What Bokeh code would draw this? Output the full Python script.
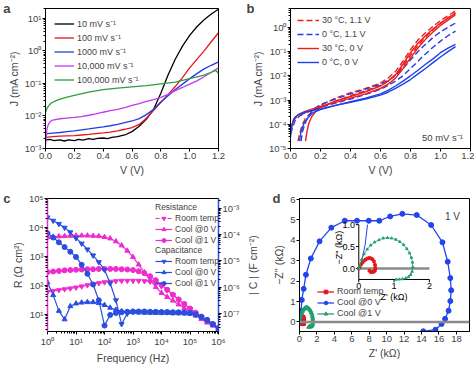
import math
from bokeh.plotting import figure
from bokeh.layouts import column, row
from bokeh.models import (Range1d, LogAxis, LinearAxis, Legend, LegendItem, Label, Span,
                          CustomJSTickFormatter, FixedTicker, LogScale, NumeralTickFormatter)
from bokeh.embed import file_html
from bokeh.resources import INLINE
from bokeh.core.properties import value

FONT = "Liberation Sans"
TICK_FS = "9.5px"
LAB_FS = "10.5px"
LEG_FS = "9px"

# ---------------- Panel a data ----------------
a_V_10 = [0.0, 0.03, 0.06, 0.1, 0.13, 0.16, 0.2, 0.23, 0.26, 0.3, 0.33, 0.36, 0.4, 0.43, 0.46, 0.5,
          0.55, 0.6, 0.65, 0.7, 0.75, 0.8, 0.85, 0.9, 0.95, 1.0, 1.05, 1.1, 1.15, 1.2]
a_J_10 = [1.8e-3, 1.9e-3, 1.75e-3, 1.85e-3, 1.7e-3, 1.85e-3, 1.75e-3, 1.9e-3, 1.8e-3, 2.0e-3, 1.9e-3,
          2.05e-3, 2.1e-3, 2.0e-3, 2.2e-3, 2.3e-3, 2.6e-3, 3.3e-3, 4.8e-3, 8.0e-3, 1.6e-2, 5.0e-2,
          1.8e-1, 5.5e-1, 1.4, 3.0, 5.5, 9.0, 13.5, 19.0]
a_V = [0.0, 0.05, 0.1, 0.15, 0.2, 0.25, 0.3, 0.35, 0.4, 0.45, 0.5, 0.55, 0.6, 0.65, 0.7, 0.75, 0.8,
       0.85, 0.9, 0.95, 1.0, 1.05, 1.1, 1.15, 1.2]
a_J_100 = [2.2e-3, 2.3e-3, 2.4e-3, 2.45e-3, 2.5e-3, 2.6e-3, 2.7e-3, 2.85e-3, 3.0e-3, 3.2e-3, 3.5e-3,
           3.9e-3, 4.4e-3, 5.5e-3, 8.5e-3, 1.5e-2, 2.6e-2, 4.5e-2, 8.0e-2, 1.5e-1, 3.0e-1, 5.5e-1,
           1.0, 1.9, 3.6]
a_J_1000 = [2.8e-3, 2.95e-3, 3.1e-3, 3.3e-3, 3.5e-3, 3.75e-3, 4.0e-3, 4.3e-3, 4.6e-3, 5.0e-3, 5.5e-3,
            6.2e-3, 7.0e-3, 8.3e-3, 1.1e-2, 1.6e-2, 2.7e-2, 4.2e-2, 6.5e-2, 9.5e-2, 1.4e-1, 2.0e-1,
            2.8e-1, 3.6e-1, 4.6e-1]
a_V_1e4 = [0.0, 0.005, 0.01, 0.02, 0.03, 0.05, 0.1, 0.15, 0.2, 0.25, 0.3, 0.35, 0.4, 0.45, 0.5, 0.55,
           0.6, 0.65, 0.7, 0.75, 0.8, 0.85, 0.9, 0.95, 1.0, 1.05, 1.1, 1.15, 1.2]
a_J_1e4 = [1.2e-3, 2.5e-3, 4e-3, 5.5e-3, 6.5e-3, 7.5e-3, 8.2e-3, 8.6e-3, 9.0e-3, 9.6e-3, 1.05e-2,
           1.15e-2, 1.3e-2, 1.45e-2, 1.6e-2, 1.8e-2, 2.1e-2, 2.4e-2, 2.8e-2, 3.2e-2, 3.7e-2, 4.6e-2,
           6.0e-2, 7.5e-2, 9.5e-2, 1.2e-1, 1.6e-1, 2.2e-1, 3.0e-1]
a_V_1e5 = [0.0, 0.01, 0.02, 0.04, 0.07, 0.1, 0.15, 0.2, 0.3, 0.4, 0.5, 0.6, 0.7, 0.8, 0.9, 1.0, 1.1,
           1.15, 1.18, 1.19, 1.2]
a_J_1e5 = [1.3e-2, 1.7e-2, 2.0e-2, 2.5e-2, 2.9e-2, 3.3e-2, 3.8e-2, 4.3e-2, 5.4e-2, 6.4e-2, 7.2e-2,
           7.8e-2, 8.5e-2, 9.7e-2, 1.1e-1, 1.4e-1, 1.8e-1, 2.2e-1, 2.5e-1, 2.3e-1, 2.0e-1]
a_labels = ["10 mV s⁻¹", "100 mV s⁻¹", "1000 mV s⁻¹", "10,000 mV s⁻¹", "100,000 mV s⁻¹"]
a_colors = ["#000000", "#e8141c", "#1f3de6", "#c338f0", "#2e9e3a"]

# ---------------- Panel b data ----------------
b_rd1_V = [0.05, 0.06, 0.08, 0.1, 0.15, 0.2, 0.3, 0.4, 0.5, 0.6, 0.65, 0.7, 0.75, 0.8, 0.85, 0.9, 0.95, 1.0, 1.05, 1.1]
b_rd1_J = [2e-5, 4e-5, 1e-4, 1.8e-4, 3.5e-4, 6e-4, 1.2e-3, 2.0e-3, 3.0e-3, 5.0e-3, 8e-3, 1.5e-2, 4e-2, 0.12, 0.3, 0.6, 1.1, 1.9, 3.0, 4.8]
b_rd2_V = [0.0, 0.02, 0.05, 0.1, 0.2, 0.3, 0.4, 0.5, 0.6, 0.65, 0.7, 0.75, 0.8, 0.85, 0.9, 0.95, 1.0, 1.05, 1.1]
b_rd2_J = [6e-5, 1.5e-4, 2.2e-4, 3e-4, 5e-4, 9e-4, 1.5e-3, 2.4e-3, 4e-3, 6e-3, 1.1e-2, 2.5e-2, 7e-2, 0.18, 0.4, 0.8, 1.5, 2.5, 4.0]
b_bd1_V = [0.07, 0.08, 0.1, 0.12, 0.15, 0.2, 0.3, 0.4, 0.5, 0.6, 0.65, 0.7, 0.75, 0.8, 0.85, 0.9, 0.95, 1.0, 1.05, 1.1]
b_bd1_J = [2e-5, 5e-5, 1.2e-4, 2.2e-4, 4e-4, 6.5e-4, 1.1e-3, 1.8e-3, 2.8e-3, 4.5e-3, 6.5e-3, 1e-2, 2e-2, 4.5e-2, 0.1, 0.2, 0.38, 0.65, 1.0, 1.5]
b_bd2_V = [0.0, 0.03, 0.06, 0.1, 0.2, 0.3, 0.4, 0.5, 0.6, 0.65, 0.7, 0.75, 0.8, 0.85, 0.9, 0.95, 1.0, 1.05, 1.1]
b_bd2_J = [4e-5, 1.4e-4, 2.2e-4, 3e-4, 5e-4, 7.5e-4, 1.1e-3, 1.7e-3, 2.8e-3, 4e-3, 6e-3, 1e-2, 2e-2, 4e-2, 8e-2, 0.15, 0.27, 0.45, 0.7]
b_rs1_V = [0.1, 0.11, 0.12, 0.14, 0.17, 0.2, 0.3, 0.4, 0.5, 0.6, 0.65, 0.7, 0.75, 0.8, 0.85, 0.9, 0.95, 1.0, 1.05, 1.1]
b_rs1_J = [2e-5, 5e-5, 1e-4, 2e-4, 3.5e-4, 5e-4, 9e-4, 1.4e-3, 2.2e-3, 3.8e-3, 6e-3, 1.1e-2, 3e-2, 9e-2, 0.22, 0.45, 0.85, 1.5, 2.4, 3.8]
b_rs2_V = [0.0, 0.02, 0.05, 0.1, 0.2, 0.3, 0.4, 0.5, 0.6, 0.65, 0.7, 0.75, 0.8, 0.85, 0.9, 0.95, 1.0, 1.05, 1.1]
b_rs2_J = [5e-5, 1.6e-4, 2.5e-4, 3.5e-4, 5.5e-4, 8e-4, 1.2e-3, 1.8e-3, 3e-3, 4.5e-3, 8e-3, 2e-2, 5.5e-2, 0.14, 0.32, 0.65, 1.2, 2.0, 3.3]
b_bs1_V = [0.0, 0.01, 0.03, 0.06, 0.1, 0.2, 0.3, 0.4, 0.5, 0.6, 0.65, 0.7, 0.75, 0.8, 0.85, 0.9, 0.95, 1.0, 1.05, 1.1]
b_bs1_J = [3e-5, 1e-4, 2e-4, 2.6e-4, 3.2e-4, 4.3e-4, 6e-4, 8e-4, 1.1e-3, 1.6e-3, 2.1e-3, 3e-3, 4.5e-3, 7e-3, 1.2e-2, 2e-2, 3.5e-2, 6e-2, 0.1, 0.16]
b_bs2_V = [0.06, 0.07, 0.09, 0.12, 0.15, 0.2, 0.3, 0.4, 0.5, 0.6, 0.65, 0.7, 0.75, 0.8, 0.85, 0.9, 0.95, 1.0, 1.05, 1.1]
b_bs2_J = [2e-5, 5e-5, 1.1e-4, 2e-4, 3e-4, 4e-4, 6e-4, 8.5e-4, 1.2e-3, 1.8e-3, 2.5e-3, 3.8e-3, 6e-3, 1e-2, 1.7e-2, 3e-2, 5e-2, 9e-2, 0.14, 0.2]
b_labels = ["30 °C, 1.1 V", "0 °C, 1.1 V", "30 °C, 0 V", "0 °C, 0 V"]
RED = "#ee1c1c"
BLUE = "#2140e8"

# ---------------- Panel c data ----------------
c_f = [1, 1.58, 2.51, 3.98, 6.31, 10, 15.8, 25.1, 39.8, 63.1, 100, 158, 251, 398, 631, 1000, 1580,
       2510, 3980, 6310, 1e4, 1.58e4, 2.51e4, 3.98e4, 6.31e4, 1e5, 1.58e5, 2.51e5, 3.98e5, 6.31e5, 1e6]
c_R_room = [60, 65, 69, 74, 79, 85, 93, 102, 112, 120, 129, 135, 141, 145, 145, 145, 145, 141, 135,
            117, 93, 69, 47, 32, 22, 15.5, 11, 8, 6, 4.5, 3.4]
c_R_cool0 = [4570, 4790, 4900, 5010, 5130, 5250, 5250, 5250, 5130, 5010, 4680, 4170, 3310, 2400, 1580,
             955, 525, 282, 151, 87, 55, 40, 30, 22, 16.6, 12.3, 9.1, 6.9, 5.2, 4.1, 3.2]
c_R_cool1 = [288, 302, 316, 331, 339, 347, 355, 363, 363, 372, 372, 372, 372, 363, 355, 339, 309, 263,
             209, 151, 105, 71, 48, 33, 23, 16, 11.5, 8.3, 6.2, 4.6, 3.5]
c_C_room = [4.4e-4, 3.3e-4, 2.5e-4, 1.8e-4, 1.2e-4, 7.2e-5, 4.5e-5, 2.7e-5, 1.6e-5, 8.9e-6, 4.6e-6,
            1.4e-6, 3.2e-7, 4.0e-8, 1.0e-7, 1.17e-7, 1.17e-7, 1.17e-7, 1.15e-7, 1.15e-7, 1.12e-7,
            1.12e-7, 1.12e-7, 1.1e-7, 1.1e-7, 1.05e-7, 9.1e-8, 7.4e-8, 5.6e-8, 4.0e-8, 2.6e-8]
c_C_cool0 = [1.5e-6, 5.0e-7, 1.26e-7, 6.0e-8, 1.9e-7, 2.4e-7, 2.6e-7, 2.7e-7, 2.7e-7, 2.5e-7, 2.1e-7,
             1.66e-7, 1.38e-7, 1.23e-7, 1.15e-7, 1.12e-7, 1.1e-7, 1.07e-7, 1.07e-7, 1.05e-7, 1.05e-7,
             1.05e-7, 1.02e-7, 1.02e-7, 1.0e-7, 9.8e-8, 8.7e-8, 7.1e-8, 5.4e-8, 3.8e-8, 2.5e-8]
c_C_cool1 = [1.1e-4, 7.6e-5, 5.0e-5, 3.3e-5, 2.2e-5, 1.4e-5, 7.1e-6, 3.2e-6, 1.26e-6, 3.2e-7, 3.5e-8,
             8.9e-8, 1.05e-7, 1.12e-7, 1.17e-7, 1.2e-7, 1.2e-7, 1.2e-7, 1.17e-7, 1.17e-7, 1.15e-7,
             1.15e-7, 1.12e-7, 1.12e-7, 1.1e-7, 1.05e-7, 9.3e-8, 7.6e-8, 5.8e-8, 4.0e-8, 2.6e-8]
c_labels = ["Room temp", "Cool @0 V", "Cool @1 V"]
MAG = "#ee2ccc"
CBLUE = "#2a4ee0"

# ---------------- Panel d data ----------------
d_rt_x = [0.0, 0.03, 0.07, 0.11, 0.16, 0.2, 0.25, 0.3, 0.35, 0.39, 0.43, 0.46, 0.47, 0.46, 0.43, 0.39, 0.34, 0.3]
d_rt_y = [0.0, 0.04, 0.1, 0.14, 0.18, 0.21, 0.23, 0.24, 0.23, 0.21, 0.16, 0.08, 0.01, -0.04, -0.07, -0.08, -0.08, -0.05]
d_c0_x = [0.05, 0.18, 0.26, 0.48, 0.74, 1.3, 2.3, 3.65, 5.2, 6.6, 7.95, 9.15, 10.4, 11.8, 13.45, 15.1,
          16.4, 17.0, 17.3, 17.4, 17.3, 17.1, 16.7, 16.3, 15.6, 14.2]
d_c0_y = [0.05, 0.54, 1.08, 1.62, 2.31, 3.11, 3.95, 4.62, 4.96, 4.96, 4.96, 4.96, 5.17, 5.3, 5.24, 4.75,
          3.9, 2.95, 2.15, 1.55, 1.02, 0.55, 0.15, -0.1, -0.38, -0.46]
d_c1_x = [0.0, 0.03, 0.08, 0.15, 0.24, 0.34, 0.45, 0.57, 0.69, 0.81, 0.93, 1.05, 1.16, 1.27, 1.36, 1.44,
          1.49, 1.52, 1.53, 1.51, 1.47, 1.41, 1.33, 1.24, 1.15, 1.06]
d_c1_y = [0.0, 0.07, 0.2, 0.33, 0.44, 0.53, 0.6, 0.65, 0.69, 0.7, 0.69, 0.66, 0.61, 0.54, 0.45, 0.35,
          0.25, 0.14, 0.03, -0.07, -0.14, -0.19, -0.22, -0.24, -0.245, -0.25]
d_labels = ["Room temp", "Cool @0 V", "Cool @1 V"]
DRED = "#e8141c"
DBLUE = "#2244ee"
DGREEN = "#1f9e6e"
ins_xticks = [0, 1, 2]
ins_yticks = [0.0, 0.5, 1.0]
ins_xlabels = ["0", "1", "2"]
ins_ylabels = ["0.0", "0.5", "1.0"]

SUP_CODE = """
const m = {'-':'\u207b','0':'\u2070','1':'\u00b9','2':'\u00b2','3':'\u00b3','4':'\u2074','5':'\u2075','6':'\u2076','7':'\u2077','8':'\u2078','9':'\u2079'};
const e = Math.round(Math.log10(tick));
return '10' + String(e).split('').map(c => m[c]).join('');
"""


def sup_fmt():
    return CustomJSTickFormatter(code=SUP_CODE)


def decades(lo, hi):
    ticks = [10.0 ** e for e in range(lo, hi + 1)]
    minors = [m * 10.0 ** e for e in range(lo - 1, hi + 1) for m in range(2, 10)]
    return FixedTicker(ticks=ticks, minor_ticks=minors)


def style(p):
    p.grid.visible = False
    p.outline_line_color = "black"
    p.outline_line_alpha = 1
    p.background_fill_color = "white"
    p.border_fill_color = "white"
    for ax in p.axis:
        ax.major_label_text_font = FONT
        ax.major_label_text_font_size = TICK_FS
        ax.axis_label_text_font = FONT
        ax.axis_label_text_font_size = LAB_FS
        ax.axis_label_text_font_style = "normal"
        ax.major_tick_out = 3
        ax.major_tick_in = 0
        ax.minor_tick_out = 2
        ax.minor_tick_in = 0
        ax.major_label_standoff = 1
        ax.axis_label_standoff = 2
        ax.axis_line_color = "black"


def style_legend(lg, fs=LEG_FS):
    lg.label_text_font = FONT
    lg.label_text_font_size = fs
    lg.background_fill_alpha = 0
    lg.border_line_color = None
    lg.padding = 0
    lg.spacing = 0
    lg.label_standoff = 3


def panel_letter(p, letter, top, shift):
    """Panel letter drawn as the single tick label of an outer, invisible left axis."""
    ax = LinearAxis(ticker=FixedTicker(ticks=[top]),
                    formatter=CustomJSTickFormatter(code="return '%s'" % letter))
    ax.axis_line_color = None
    ax.major_tick_line_color = None
    ax.minor_tick_line_color = None
    ax.major_tick_out = 0
    ax.major_tick_in = 0
    ax.minor_tick_out = 0
    ax.minor_tick_in = 0
    ax.major_label_standoff = -shift
    ax.major_label_text_font = FONT
    ax.major_label_text_font_style = "bold"
    ax.major_label_text_font_size = "13px"
    p.add_layout(ax, "left")
    return ax


# ================= Panel a =================
pa = figure(width=237, height=183, y_axis_type="log", x_range=Range1d(0, 1.2),
            y_range=Range1d(1e-3, 20), output_backend="svg", toolbar_location=None,
            min_border_left=42, min_border_right=19, min_border_top=8, min_border_bottom=35)
for xs, ys, c, lab in [(a_V_10, a_J_10, a_colors[0], a_labels[0]),
                       (a_V, a_J_100, a_colors[1], a_labels[1]),
                       (a_V, a_J_1000, a_colors[2], a_labels[2]),
                       (a_V_1e4, a_J_1e4, a_colors[3], a_labels[3]),
                       (a_V_1e5, a_J_1e5, a_colors[4], a_labels[4])]:
    pa.line(xs, ys, line_color=c, line_width=1.3, legend_label=lab)
pa.xaxis.ticker = FixedTicker(ticks=[0, 0.2, 0.4, 0.6, 0.8, 1.0, 1.2])
pa.xaxis.formatter = NumeralTickFormatter(format="0.0")
pa.yaxis.ticker = decades(-3, 1)
pa.yaxis.formatter = sup_fmt()
pa.xaxis.axis_label = "V (V)"
pa.yaxis.axis_label = "J (mA cm⁻²)"
style(pa)
style_legend(pa.legend[0])
pa.legend.location = "top_left"
pa.legend.margin = 9
pa.legend.glyph_width = 20
pa.legend.glyph_height = 9
pa.legend.label_height = 9
pa.legend.spacing = 1
panel_letter(pa, "a", 20, 6)

# ================= Panel b =================
pb = figure(width=237, height=183, y_axis_type="log", x_range=Range1d(0, 1.2),
            y_range=Range1d(1e-5, 6), output_backend="svg", toolbar_location=None,
            min_border_left=53, min_border_right=4, min_border_top=8, min_border_bottom=35)
r1 = pb.multi_line([b_rd1_V, b_rd2_V], [b_rd1_J, b_rd2_J], line_color=RED, line_width=1.4, line_dash="6 3")
r2 = pb.multi_line([b_bd1_V, b_bd2_V], [b_bd1_J, b_bd2_J], line_color=BLUE, line_width=1.4, line_dash="6 3")
r3 = pb.multi_line([b_rs1_V, b_rs2_V], [b_rs1_J, b_rs2_J], line_color=RED, line_width=1.4)
r4 = pb.multi_line([b_bs1_V, b_bs2_V], [b_bs1_J, b_bs2_J], line_color=BLUE, line_width=1.4)
lb = Legend(items=[LegendItem(label=b_labels[0], renderers=[r1]),
                   LegendItem(label=b_labels[1], renderers=[r2]),
                   LegendItem(label=b_labels[2], renderers=[r3]),
                   LegendItem(label=b_labels[3], renderers=[r4])],
            location="top_left")
style_legend(lb)
lb.margin = 7
lb.glyph_width = 22
lb.glyph_height = 10
lb.label_height = 10
lb.spacing = 4
pb.add_layout(lb)
pb.xaxis.ticker = FixedTicker(ticks=[0, 0.2, 0.4, 0.6, 0.8, 1.0, 1.2])
pb.xaxis.formatter = NumeralTickFormatter(format="0.0")
pb.yaxis.ticker = decades(-5, 0)
pb.yaxis.formatter = sup_fmt()
pb.xaxis.axis_label = "V (V)"
pb.yaxis.axis_label = "J (mA cm⁻²)"
style(pb)
pb.add_layout(Label(x=1.15, y=2.8e-5, text="50 mV s⁻¹", text_align="right", text_baseline="middle",
                    text_font=FONT, text_font_size="9.5px"))
panel_letter(pb, "b", 6, 6)

# ================= Panel c =================
pc = figure(width=243, height=183, x_axis_type="log", y_axis_type="log",
            x_range=Range1d(1, 1e6), y_range=Range1d(10 ** 0.41, 1e5),
            output_backend="svg", toolbar_location=None,
            min_border_left=42, min_border_right=24, min_border_top=15, min_border_bottom=28)
pc.extra_y_ranges = {"cap": Range1d(10 ** -7.68, 10 ** -2.64)}
pc.extra_y_scales = {"cap": LogScale()}
rax = LogAxis(y_range_name="cap")
pc.add_layout(rax, "right")

res_items = []
cap_items = []
markers = ["inverted_triangle", "triangle", "circle"]
for ys, mk, lab, dash in [(c_R_room, markers[0], c_labels[0], "4 2"),
                          (c_R_cool0, markers[1], c_labels[1], "solid"),
                          (c_R_cool1, markers[2], c_labels[2], "solid")]:
    l = pc.line(c_f, ys, line_color=MAG, line_width=1.2, line_dash=dash)
    s = pc.scatter(c_f, ys, marker=mk, size=5, fill_color=MAG, line_color=MAG)
    res_items.append(LegendItem(label=lab, renderers=[l, s]))
for ys, mk, lab in [(c_C_room, markers[0], c_labels[0]),
                    (c_C_cool0, markers[1], c_labels[1]),
                    (c_C_cool1, markers[2], c_labels[2])]:
    l = pc.line(c_f, ys, line_color=CBLUE, line_width=1.2, y_range_name="cap")
    s = pc.scatter(c_f, ys, marker=mk, size=5, fill_color=CBLUE, line_color=CBLUE, y_range_name="cap")
    cap_items.append(LegendItem(label=lab, renderers=[l, s]))

lg1 = Legend(items=res_items, title="Resistance", location=(108, 86))
lg2 = Legend(items=cap_items, title="Capacitance", location=(108, 43))
for lg in (lg1, lg2):
    style_legend(lg, "8.5px")
    lg.margin = 0
    lg.glyph_width = 17
    lg.glyph_height = 10
    lg.label_height = 10
    lg.spacing = 1
    lg.title_text_font = FONT
    lg.title_text_font_size = "8.5px"
    lg.title_text_font_style = "normal"
    lg.title_standoff = 1
    pc.add_layout(lg)

pc.xaxis.ticker = decades(0, 6)
pc.xaxis.formatter = sup_fmt()
pc.yaxis[0].ticker = decades(1, 5)
pc.yaxis[0].formatter = sup_fmt()
rax.ticker = decades(-7, -3)
rax.formatter = sup_fmt()
pc.xaxis.axis_label = "Frequency (Hz)"
pc.yaxis[0].axis_label = "R (Ω cm²)"
style(pc)
pc.yaxis[0].axis_line_color = MAG
pc.yaxis[0].axis_line_width = 1.5
rax.axis_line_color = CBLUE
rax.axis_line_width = 1.5
panel_letter(pc, "c", 1e5, 2)

# ================= Panel d =================
pd = figure(width=231, height=183, x_range=Range1d(0, 19.5), y_range=Range1d(-0.47, 6.05),
            output_backend="svg", toolbar_location=None,
            min_border_left=49, min_border_right=5, min_border_top=15, min_border_bottom=28)
pd.add_layout(Span(location=0, dimension="width", line_color="#8a8a8a", line_width=2.5))
l1 = pd.line(d_rt_x, d_rt_y, line_color=DRED, line_width=1.3)
s1 = pd.scatter(d_rt_x, d_rt_y, marker="square", size=4, fill_color=DRED, line_color=DRED)
l2 = pd.line(d_c0_x, d_c0_y, line_color=DBLUE, line_width=1.3)
s2 = pd.scatter(d_c0_x, d_c0_y, marker="circle", size=5, fill_color=DBLUE, line_color=DBLUE)
l3 = pd.line(d_c1_x, d_c1_y, line_color=DGREEN, line_width=1.3)
s3 = pd.scatter(d_c1_x, d_c1_y, marker="triangle", size=4, fill_color=DGREEN, line_color=DGREEN)
ld = Legend(items=[LegendItem(label=d_labels[0], renderers=[l1, s1]),
                   LegendItem(label=d_labels[1], renderers=[l2, s2]),
                   LegendItem(label=d_labels[2], renderers=[l3, s3])],
            location=(18, 13))
style_legend(ld)
ld.margin = 0
ld.glyph_width = 17
ld.glyph_height = 9
ld.label_height = 9
ld.spacing = 1
pd.add_layout(ld)
pd.xaxis.ticker = FixedTicker(ticks=[0, 2, 4, 6, 8, 10, 12, 14, 16, 18])
pd.yaxis.ticker = FixedTicker(ticks=[0, 1, 2, 3, 4, 5, 6])
pd.xaxis.axis_label = "Z' (kΩ)"
pd.yaxis.axis_label = "−Z'' (kΩ)"
style(pd)
pd.add_layout(Label(x=18.4, y=5.17, text="1 V", text_align="right", text_baseline="middle",
                    text_font=FONT, text_font_size="10px"))
panel_letter(pd, "d", 6.05, 10)
# right-axis title of panel c sits in the gap left of panel d (as in the original figure)
cax = LinearAxis(ticker=FixedTicker(ticks=[]), axis_label="| C | (F cm⁻²)")
cax.axis_line_color = None
cax.major_tick_line_color = None
cax.minor_tick_line_color = None
cax.major_tick_out = 0
cax.minor_tick_out = 0
cax.major_label_standoff = 0
cax.axis_label_standoff = 11
cax.axis_label_text_font = FONT
cax.axis_label_text_font_size = LAB_FS
cax.axis_label_text_font_style = "normal"
pd.add_layout(cax, "left")

# ---- inset ----
IX0, IX1, IY0, IY1 = 0.0, 2.0, -0.25, 1.0
ins = pd.subplot(x_source=Range1d(IX0, IX1), y_source=Range1d(IY0, IY1),
                 x_target=Range1d(6.8, 14.9), y_target=Range1d(2.08, 4.77))
TX = 0.08
TY = 0.065
ins.segment(x0=[IX0, IX0], y0=[IY0, IY0], x1=[IX1, IX0], y1=[IY0, IY1], line_color="black", line_width=1)
ins.segment(x0=ins_xticks, y0=[IY0] * 3, x1=ins_xticks, y1=[IY0 - TY] * 3, line_color="black", line_width=1)
ins.segment(x0=[IX0] * 3, y0=ins_yticks, x1=[IX0 - TX] * 3, y1=ins_yticks, line_color="black", line_width=1)
ins.segment(x0=[IX0], y0=[0.0], x1=[IX1], y1=[0.0], line_color="#8a8a8a", line_width=2.5)
ins.text(x=ins_xticks, y=[IY0 - 0.09] * 3, text=ins_xlabels, text_align="center", text_baseline="top",
         text_font=value(FONT), text_font_size="9px")
ins.text(x=[IX0 - 0.11] * 3, y=ins_yticks, text=ins_ylabels, text_align="right", text_baseline="middle",
         text_font=value(FONT), text_font_size="9px")
ins.text(x=[(IX0 + IX1) / 2], y=[IY0 - 0.4], text=["Z' (kΩ)"], text_align="center", text_baseline="middle",
         text_font=value(FONT), text_font_size="9px")
ins.text(x=[IX0 - 0.56], y=[(IY0 + IY1) / 2 + 0.1], text=["−Z'' (kΩ)"], text_align="center",
         text_baseline="middle", angle=math.pi / 2, text_font=value(FONT), text_font_size="9px")
# blue curve clipped at inset top
bx, by = [0.0], [0.0]
for i in range(len(d_c0_x)):
    if d_c0_y[i] <= IY1:
        bx.append(d_c0_x[i]); by.append(d_c0_y[i])
    else:
        x0, y0 = bx[-1], by[-1]
        t = (IY1 - y0) / (d_c0_y[i] - y0)
        bx.append(x0 + t * (d_c0_x[i] - x0)); by.append(IY1)
        break
ins.line(bx, by, line_color=DBLUE, line_width=1)
ins.line(d_rt_x, d_rt_y, line_color=DRED, line_width=1.5)
ins.scatter(d_rt_x, d_rt_y, marker="square", size=2.5, fill_color=DRED, line_color=DRED)
ins.line(d_c1_x, d_c1_y, line_color=DGREEN, line_width=0.8)
ins.scatter(d_c1_x, d_c1_y, marker="triangle", size=2.5, fill_color=DGREEN, line_color=DGREEN)

layout = column(row(pa, pb), row(pc, pd))
open("out.html", "w").write(file_html(layout, INLINE))
